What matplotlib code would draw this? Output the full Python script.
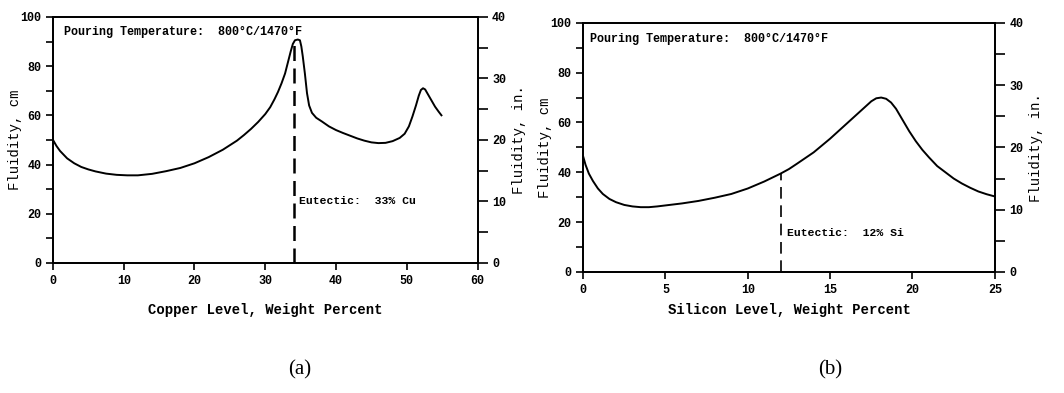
import matplotlib

matplotlib.use("Agg")
import matplotlib.pyplot as plt  # noqa: E402
from matplotlib.ticker import MultipleLocator  # noqa: E402

# (a) Al-Cu fluidity curve
CU_PCT = [0, 0.5, 1, 2, 3, 4, 5, 6, 7.5, 9, 10.5, 12, 14, 16, 18, 20, 22, 24,
          26, 27, 28, 29, 30, 30.7, 31.3, 31.8, 32.3, 32.8, 33.2, 33.6, 33.9,
          34.2, 34.6, 34.9, 35.1, 35.3, 35.6, 35.9, 36.2, 36.6, 37.2, 38, 39,
          40, 41, 42, 43, 44, 45, 46, 47, 48, 49, 49.7, 50.3, 50.8, 51.3,
          51.7, 52, 52.3, 52.6, 53, 53.5, 54, 54.5, 54.9]
CU_FLUID = [50, 47.5, 45.5, 42.5, 40.5, 39, 38, 37.2, 36.3, 35.8, 35.6, 35.6,
            36.2, 37.3, 38.6, 40.5, 43, 46, 49.7, 52, 54.5, 57.3, 60.5, 63.3,
            66.5, 69.5, 73, 77, 81.5, 86, 89, 90.5, 90.8, 90.5, 88, 84, 77,
            69, 64, 61, 59, 57.5, 55.5, 54, 52.8, 51.7, 50.6, 49.7, 49, 48.7,
            48.8, 49.5, 50.8, 52.5, 55.5, 59.5, 64, 68, 70.3, 71, 70.5, 68.5,
            66, 63.5, 61.5, 60]
CU_EUTECTIC = 34.0
CU_EUTECTIC_TOP = 90

# (b) Al-Si fluidity curve
SI_PCT = [0, 0.15, 0.35, 0.6, 0.9, 1.2, 1.6, 2, 2.5, 3, 3.5, 4, 4.5, 5, 6, 7,
          8, 9, 10, 11, 12, 12.5, 13, 14, 15, 16, 16.5, 17, 17.5, 17.8, 18.1,
          18.4, 18.7, 19, 19.4, 19.8, 20.2, 20.6, 21, 21.5, 22, 22.5, 23,
          23.5, 24, 24.5, 25]
SI_FLUID = [46.5, 43, 39.5, 36.5, 33.5, 31.3, 29.3, 28, 26.9, 26.3, 26, 26,
            26.3, 26.7, 27.5, 28.5, 29.8, 31.3, 33.5, 36.3, 39.5, 41.3, 43.5,
            48, 53.5, 59.5, 62.5, 65.5, 68.5, 69.7, 70, 69.5, 68, 65.5, 61,
            56.5, 52.5, 49, 46, 42.5, 40, 37.5, 35.5, 33.8, 32.3, 31.2, 30.3]
SI_EUTECTIC = 12.0
SI_EUTECTIC_TOP = 39.7

CM_PER_IN = 2.5
FONT = "Liberation Mono"


def style_axes(ax, xmax, xmajor, xlabel, xpad):
    ax.set_xlim(0, xmax)
    ax.set_ylim(0, 100)
    ax.xaxis.set_major_locator(MultipleLocator(xmajor))
    ax.yaxis.set_major_locator(MultipleLocator(20))
    ax.yaxis.set_minor_locator(MultipleLocator(10))
    ax.tick_params(axis="both", which="major", direction="out", length=5,
                   width=1.2, labelsize=8.5)
    ax.tick_params(axis="y", which="minor", direction="out", length=5,
                   width=1.2)
    for lab in ax.get_xticklabels() + ax.get_yticklabels():
        lab.set_family(FONT)
        lab.set_weight("bold")
    for sp in ax.spines.values():
        sp.set_linewidth(1.3)
    ax.set_xlabel(xlabel, family=FONT, fontweight="bold", fontsize=10,
                  labelpad=xpad)
    ax.set_ylabel("Fluidity, cm", family=FONT, fontsize=10, labelpad=-1)

    rax = ax.twinx()
    rax.set_ylim(0, 100 / CM_PER_IN)
    rax.yaxis.set_major_locator(MultipleLocator(10))
    rax.yaxis.set_minor_locator(MultipleLocator(5))
    rax.tick_params(axis="y", which="both", direction="out", length=7,
                    width=1.2, labelsize=8.5)
    for lab in rax.get_yticklabels():
        lab.set_family(FONT)
        lab.set_weight("bold")
    for sp in rax.spines.values():
        sp.set_linewidth(1.3)
    rax.set_ylabel("Fluidity, in.", family=FONT, fontsize=10, labelpad=4)
    return rax


fig = plt.figure(figsize=(10.64, 3.93), dpi=100)
ax_a = fig.add_axes([0.0498, 0.331, 0.399, 0.626])
ax_b = fig.add_axes([0.548, 0.308, 0.387, 0.634])

# panel (a)
style_axes(ax_a, 60, 10, "Copper Level, Weight Percent", 12)
ax_a.plot(CU_PCT, CU_FLUID, color="black", linewidth=1.4)
ax_a.plot([CU_EUTECTIC, CU_EUTECTIC], [0, CU_EUTECTIC_TOP], color="black",
          linewidth=1.8, dashes=(6, 3))
ax_a.text(1.5, 94, "Pouring Temperature:  800\u00b0C/1470\u00b0F",
          family=FONT, fontweight="bold", fontsize=8.5, va="center")
ax_a.text(CU_EUTECTIC + 0.7, 25, "Eutectic:  33% Cu", family=FONT,
          fontweight="bold", fontsize=8.2, va="center")

# panel (b)
style_axes(ax_b, 25, 5, "Silicon Level, Weight Percent", 5)
ax_b.plot(SI_PCT, SI_FLUID, color="black", linewidth=1.4)
ax_b.plot([SI_EUTECTIC, SI_EUTECTIC], [0, SI_EUTECTIC_TOP], color="black",
          linewidth=1.2, dashes=(7, 4))
ax_b.text(0.4, 93.5, "Pouring Temperature:  800\u00b0C/1470\u00b0F",
          family=FONT, fontweight="bold", fontsize=8.5, va="center")
ax_b.text(SI_EUTECTIC + 0.4, 15.5, "Eutectic:  12% Si", family=FONT,
          fontweight="bold", fontsize=8.2, va="center")

fig.text(0.282, 0.058, "(a)", family="Liberation Serif", fontsize=15,
         ha="center", va="center")
fig.text(0.780, 0.058, "(b)", family="Liberation Serif", fontsize=15,
         ha="center", va="center")

fig.savefig("out.png", dpi=100)
